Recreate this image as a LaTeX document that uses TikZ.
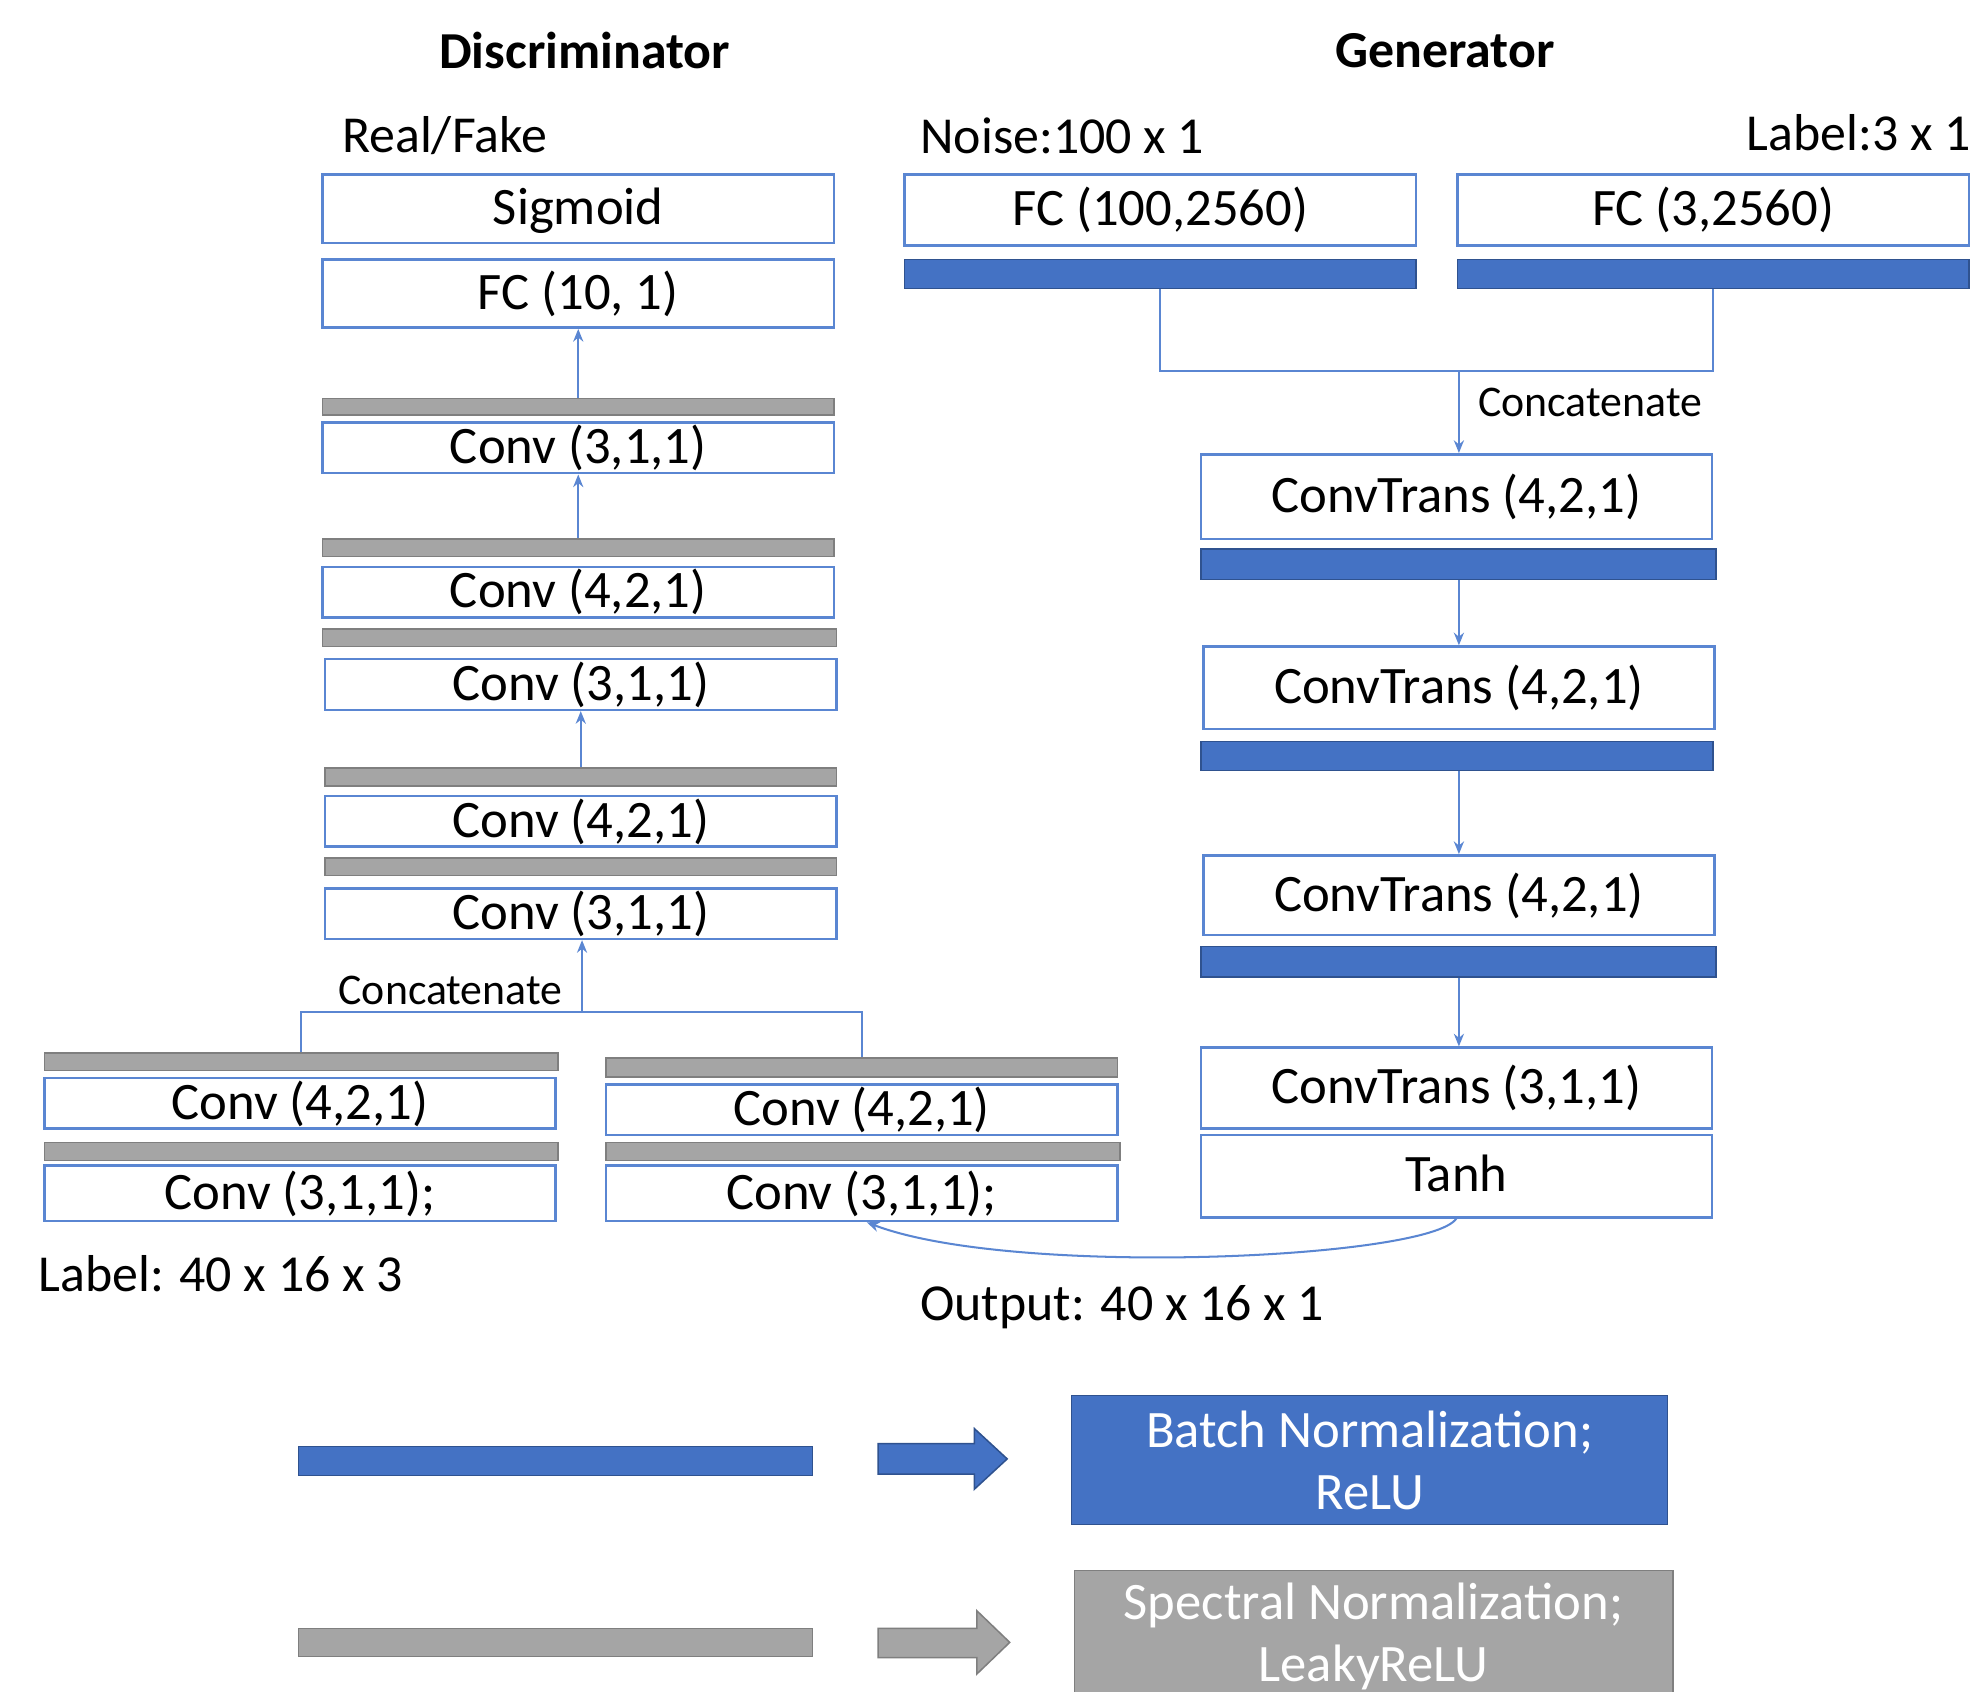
\documentclass[tikz,border=0pt]{standalone}
\usepackage{fontspec}
\setmainfont{Carlito}
\usetikzlibrary{arrows.meta,calc}
\definecolor{bblue}{HTML}{4472C4}
\definecolor{bline}{HTML}{5A86D2}
\definecolor{bdark}{HTML}{2F528F}
\definecolor{gfill}{HTML}{A5A5A5}
\definecolor{gdraw}{HTML}{7F7F7F}
\newcommand\mybox[7]{\node[#7, minimum width={(#4-#2)*0.5pt}, minimum height={(#5-#3)*0.5pt}] (#1) at ({(#2+#4)/2},{(#3+#5)/2}) {#6};}
\tikzset{
  boxs/.style={draw=bline, line width=1pt, fill=white, inner sep=0pt, font=\fontsize{20.8}{24}\selectfont, text height=15.5pt, text depth=3pt},
  gbar/.style={draw=gdraw, line width=0.6pt, fill=gfill, inner sep=0pt},
  bbar/.style={draw=bdark, line width=0.6pt, fill=bblue, inner sep=0pt},
  lbl/.style={inner sep=0pt, font=\fontsize{20.5}{24}\selectfont},
  ttl/.style={inner sep=0pt, font=\fontsize{20.5}{24}\selectfont\bfseries},
  small/.style={inner sep=0pt, font=\fontsize{17.3}{20}\selectfont},
  legbox/.style={inner sep=0pt, align=center, text=white, font=\fontsize{20.8}{24.5}\selectfont},
  link/.style={draw=bline, line width=0.8pt},
  conn/.style={draw=bline, line width=0.8pt, -{Stealth[length=5pt,width=4pt]}},
}
\begin{document}
\begin{tikzpicture}[x=0.5pt,y=-0.5pt]
\useasboundingbox (0,0) rectangle (1568,1337);
\clip (0,0) rectangle (1568,1337);
\fill[white] (0,0) rectangle (1568,1337);

% titles and labels
\node[ttl] (tD) at (462,40) {Discriminator};
\node[ttl] (tG) at (1142,40) {Generator};
\node[lbl, anchor=west] (rf) at (270,107) {Real/Fake};
\node[lbl, anchor=west] (noise) at (727,107) {Noise:100 x 1};
\node[lbl, anchor=east] (lab) at (1558,105) {Label:3 x 1};

% discriminator column
\mybox{sig}{255}{138}{659}{192}{Sigmoid}{boxs}
\mybox{fc1}{255}{205}{659}{259}{FC (10, 1)}{boxs}
\mybox{g1}{255}{315}{659}{328}{}{gbar}
\mybox{c1}{255}{334}{659}{374}{Conv (3,1,1)}{boxs}
\mybox{g2}{255}{426}{659}{440}{}{gbar}
\mybox{c2}{255}{448}{659}{488}{Conv (4,2,1)}{boxs}
\mybox{g3}{255}{497}{661}{511}{}{gbar}
\mybox{c3}{257}{521}{661}{561}{Conv (3,1,1)}{boxs}
\mybox{g4}{257}{607}{661}{621}{}{gbar}
\mybox{c4}{257}{629}{661}{669}{Conv (4,2,1)}{boxs}
\mybox{g5}{257}{678}{661}{692}{}{gbar}
\mybox{c5}{257}{702}{661}{742}{Conv (3,1,1)}{boxs}

% discriminator input branches
\mybox{lg1}{35}{832}{441}{846}{}{gbar}
\mybox{lc1}{35}{852}{439}{892}{Conv (4,2,1)}{boxs}
\mybox{lg2}{35}{903}{441}{917}{}{gbar}
\mybox{lc2}{35}{921}{439}{965}{Conv (3,1,1);}{boxs}
\mybox{rg1}{479}{836}{883}{851}{}{gbar}
\mybox{rc1}{479}{857}{883}{897}{Conv (4,2,1)}{boxs}
\mybox{rg2}{479}{903}{885}{917}{}{gbar}
\mybox{rc2}{479}{921}{883}{965}{Conv (3,1,1);}{boxs}

\draw[conn] (g1.north) -- (g1.north |- fc1.south);
\draw[conn] (g2.north) -- (g2.north |- c1.south);
\draw[conn] (g4.north) -- (g4.north |- c3.south);
\coordinate (jD) at (460,800);
\draw[link] (lg1.north) |- (jD) -| (rg1.north);
\draw[conn] (jD) -- (jD |- c5.south);
\node[small] (catD) at (356,783) {Concatenate};

\node[lbl, anchor=west] (labD) at (30,1007) {Label: 40 x 16 x 3};
\node[lbl, anchor=west] (outG) at (727,1033) {Output: 40 x 16 x 1};

% generator
\mybox{fcn}{715}{138}{1119}{194}{FC (100,2560)}{boxs}
\mybox{bn}{715}{205}{1119}{228}{}{bbar}
\mybox{fcl}{1152}{138}{1556}{194}{FC (3,2560)}{boxs}
\mybox{bl}{1152}{205}{1556}{228}{}{bbar}
\coordinate (jG) at (1153,293);
\draw[link] (bn.south) |- (jG) -| (bl.south);
\node[small, anchor=west] (catG) at (1168,318) {Concatenate};

\mybox{ct1}{949}{359}{1353}{426}{ConvTrans (4,2,1)}{boxs}
\mybox{b1}{949}{434}{1356}{458}{}{bbar}
\mybox{ct2}{951}{511}{1355}{576}{ConvTrans (4,2,1)}{boxs}
\mybox{b2}{949}{586}{1354}{609}{}{bbar}
\mybox{ct3}{951}{676}{1355}{739}{ConvTrans (4,2,1)}{boxs}
\mybox{b3}{949}{748}{1356}{772}{}{bbar}
\mybox{ct4}{949}{828}{1353}{892}{ConvTrans (3,1,1)}{boxs}
\mybox{tanh}{949}{897}{1353}{962}{Tanh}{boxs}

\draw[conn] (jG) -- (jG |- ct1.north);
\draw[conn] (jG |- b1.south) -- (jG |- ct2.north);
\draw[conn] (jG |- b2.south) -- (jG |- ct3.north);
\draw[conn] (jG |- b3.south) -- (jG |- ct4.north);
\draw[conn] (tanh.south) .. controls (1130,995) and (800,1010) .. ($(rc2.south)+(4,0)$);

% legend
\mybox{lbb}{236}{1143}{642}{1166}{}{bbar}
\draw[bbar] (694,1141) -- (770,1141) -- (770,1129) -- (796,1153) -- (770,1177) -- (770,1165) -- (694,1165) -- cycle;
\mybox{bbox}{847}{1103}{1318}{1205}{Batch Normalization;\\ReLU}{bbar,legbox}
\mybox{lgb}{236}{1287}{642}{1309}{}{gbar}
\draw[gbar] (694,1287) -- (772,1287) -- (772,1273) -- (798,1298) -- (772,1323) -- (772,1310) -- (694,1310) -- cycle;
\mybox{gbox}{849}{1241}{1322}{1345}{Spectral Normalization;\\LeakyReLU}{gbar,legbox}
\end{tikzpicture}
\end{document}
